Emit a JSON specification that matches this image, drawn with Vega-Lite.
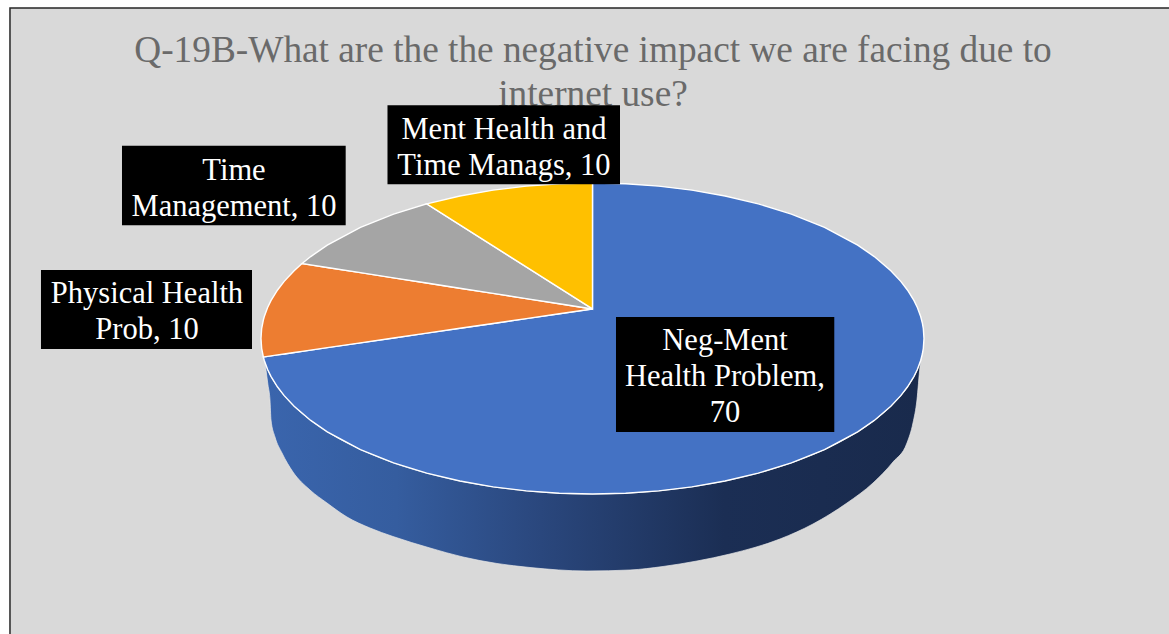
{
  "$schema": "https://vega.github.io/schema/vega-lite/v6.json",
  "width": 1169,
  "height": 634,
  "padding": 0,
  "autosize": "none",
  "background": "#ffffff",
  "view": {"stroke": null},
  "datasets": {
    "frame": [{"x": -175.72, "x2": 176, "y": 212.54, "y2": -192}],
    "wall": [
      {"x": -98.79, "y": -15.5, "y2": -15.5},
      {"x": -97.89, "y": -20.5, "y2": -29.9},
      {"x": -97.29, "y": -23.1, "y2": -39.55},
      {"x": -96.98, "y": -24.4, "y2": -52.41},
      {"x": -95.78, "y": -28.7, "y2": -63.34},
      {"x": -93.67, "y": -35.0, "y2": -73.63},
      {"x": -90.35, "y": -42.9, "y2": -85.85},
      {"x": -85.22, "y": -52.3, "y2": -97.43},
      {"x": -80.09, "y": -59.9, "y2": -105.79},
      {"x": -74.06, "y": -67.2, "y2": -114.79},
      {"x": -67.13, "y": -74.1, "y2": -121.86},
      {"x": -60.18, "y": -79.9, "y2": -127.33},
      {"x": -49.02, "y": -87.16, "y2": -134.73},
      {"x": -39.06, "y": -92.05, "y2": -140.51},
      {"x": -28.81, "y": -95.76, "y2": -144.69},
      {"x": -18.85, "y": -98.21, "y2": -147.27},
      {"x": -1.66, "y": -100, "y2": -149.52},
      {"x": 11.31, "y": -99.36, "y2": -148.87},
      {"x": 21.27, "y": -97.71, "y2": -146.62},
      {"x": 31.52, "y": -94.9, "y2": -143.09},
      {"x": 41.48, "y": -90.99, "y2": -138.59},
      {"x": 56.56, "y": -82.47, "y2": -128.94},
      {"x": 66.52, "y": -74.7, "y2": -119.29},
      {"x": 76.77, "y": -64.1, "y2": -105.79},
      {"x": 84.62, "y": -53.3, "y2": -92.93},
      {"x": 90.65, "y": -42.2, "y2": -79.42},
      {"x": 94.87, "y": -31.6, "y2": -67.2},
      {"x": 96.68, "y": -25.6, "y2": -54.34},
      {"x": 97.88, "y": -20.5, "y2": -39.55},
      {"x": 98.79, "y": -15.5, "y2": -18.33},
      {"x": 99.09, "y": -13.5, "y2": -13.5}
    ],
    "slices": [
      {"slice": "Neg-Ment Health Problem", "x": -99.29, "y": -11.9, "y2": -11.9},
      {"slice": "Neg-Ment Health Problem", "x": -99, "y": -11.81, "y2": -14.11},
      {"slice": "Neg-Ment Health Problem", "x": -98, "y": -11.5, "y2": -19.9},
      {"slice": "Neg-Ment Health Problem", "x": -97, "y": -11.19, "y2": -24.31},
      {"slice": "Neg-Ment Health Problem", "x": -95, "y": -10.56, "y2": -31.22},
      {"slice": "Neg-Ment Health Problem", "x": -93, "y": -9.94, "y2": -36.76},
      {"slice": "Neg-Ment Health Problem", "x": -90, "y": -9.01, "y2": -43.59},
      {"slice": "Neg-Ment Health Problem", "x": -85, "y": -7.45, "y2": -52.68},
      {"slice": "Neg-Ment Health Problem", "x": -80, "y": -5.9, "y2": -60},
      {"slice": "Neg-Ment Health Problem", "x": -70, "y": -2.78, "y2": -71.41},
      {"slice": "Neg-Ment Health Problem", "x": -60, "y": 0.33, "y2": -80},
      {"slice": "Neg-Ment Health Problem", "x": -50, "y": 3.44, "y2": -86.6},
      {"slice": "Neg-Ment Health Problem", "x": -40, "y": 6.55, "y2": -91.65},
      {"slice": "Neg-Ment Health Problem", "x": -30, "y": 9.66, "y2": -95.39},
      {"slice": "Neg-Ment Health Problem", "x": -20, "y": 12.78, "y2": -97.98},
      {"slice": "Neg-Ment Health Problem", "x": -10, "y": 15.89, "y2": -99.5},
      {"slice": "Neg-Ment Health Problem", "x": 0, "y": 19, "y2": -100},
      {"slice": "Neg-Ment Health Problem", "x": 0.01, "y": 100, "y2": -100},
      {"slice": "Neg-Ment Health Problem", "x": 10, "y": 99.5, "y2": -99.5},
      {"slice": "Neg-Ment Health Problem", "x": 20, "y": 97.98, "y2": -97.98},
      {"slice": "Neg-Ment Health Problem", "x": 30, "y": 95.39, "y2": -95.39},
      {"slice": "Neg-Ment Health Problem", "x": 40, "y": 91.65, "y2": -91.65},
      {"slice": "Neg-Ment Health Problem", "x": 50, "y": 86.6, "y2": -86.6},
      {"slice": "Neg-Ment Health Problem", "x": 60, "y": 80, "y2": -80},
      {"slice": "Neg-Ment Health Problem", "x": 70, "y": 71.41, "y2": -71.41},
      {"slice": "Neg-Ment Health Problem", "x": 80, "y": 60, "y2": -60},
      {"slice": "Neg-Ment Health Problem", "x": 85, "y": 52.68, "y2": -52.68},
      {"slice": "Neg-Ment Health Problem", "x": 90, "y": 43.59, "y2": -43.59},
      {"slice": "Neg-Ment Health Problem", "x": 93, "y": 36.76, "y2": -36.76},
      {"slice": "Neg-Ment Health Problem", "x": 95, "y": 31.22, "y2": -31.22},
      {"slice": "Neg-Ment Health Problem", "x": 97, "y": 24.31, "y2": -24.31},
      {"slice": "Neg-Ment Health Problem", "x": 98, "y": 19.9, "y2": -19.9},
      {"slice": "Neg-Ment Health Problem", "x": 99, "y": 14.11, "y2": -14.11},
      {"slice": "Neg-Ment Health Problem", "x": 99.5, "y": 9.99, "y2": -9.99},
      {"slice": "Neg-Ment Health Problem", "x": 99.8, "y": 6.32, "y2": -6.32},
      {"slice": "Neg-Ment Health Problem", "x": 100, "y": 0, "y2": 0},
      {"slice": "Physical Health Prob", "x": -100, "y": 0, "y2": 0},
      {"slice": "Physical Health Prob", "x": -99.8, "y": 6.32, "y2": -6.32},
      {"slice": "Physical Health Prob", "x": -99.29, "y": 11.9, "y2": -11.9},
      {"slice": "Physical Health Prob", "x": -99, "y": 14.11, "y2": -11.81},
      {"slice": "Physical Health Prob", "x": -98, "y": 19.9, "y2": -11.5},
      {"slice": "Physical Health Prob", "x": -97, "y": 24.31, "y2": -11.19},
      {"slice": "Physical Health Prob", "x": -95, "y": 31.22, "y2": -10.56},
      {"slice": "Physical Health Prob", "x": -93, "y": 36.76, "y2": -9.94},
      {"slice": "Physical Health Prob", "x": -90, "y": 43.59, "y2": -9.01},
      {"slice": "Physical Health Prob", "x": -87.6, "y": 48.2, "y2": -8.26},
      {"slice": "Physical Health Prob", "x": -80, "y": 45.67, "y2": -5.9},
      {"slice": "Physical Health Prob", "x": -70, "y": 42.33, "y2": -2.78},
      {"slice": "Physical Health Prob", "x": -60, "y": 39, "y2": 0.33},
      {"slice": "Physical Health Prob", "x": -50, "y": 35.67, "y2": 3.44},
      {"slice": "Physical Health Prob", "x": -40, "y": 32.33, "y2": 6.55},
      {"slice": "Physical Health Prob", "x": -30, "y": 29, "y2": 9.66},
      {"slice": "Physical Health Prob", "x": -20, "y": 25.67, "y2": 12.78},
      {"slice": "Physical Health Prob", "x": -10, "y": 22.33, "y2": 15.89},
      {"slice": "Physical Health Prob", "x": 0, "y": 19, "y2": 19},
      {"slice": "Time Management", "x": -87.6, "y": 48.2, "y2": 48.2},
      {"slice": "Time Management", "x": -85, "y": 52.68, "y2": 47.33},
      {"slice": "Time Management", "x": -80, "y": 60, "y2": 45.67},
      {"slice": "Time Management", "x": -70, "y": 71.41, "y2": 42.33},
      {"slice": "Time Management", "x": -60, "y": 80, "y2": 39},
      {"slice": "Time Management", "x": -50, "y": 86.6, "y2": 35.67},
      {"slice": "Time Management", "x": -40, "y": 73.08, "y2": 32.33},
      {"slice": "Time Management", "x": -30, "y": 59.56, "y2": 29},
      {"slice": "Time Management", "x": -20, "y": 46.04, "y2": 25.67},
      {"slice": "Time Management", "x": -10, "y": 32.52, "y2": 22.33},
      {"slice": "Time Management", "x": 0, "y": 19, "y2": 19},
      {"slice": "Ment Health and Time Manags", "x": -50, "y": 86.6, "y2": 86.6},
      {"slice": "Ment Health and Time Manags", "x": -40, "y": 91.65, "y2": 73.08},
      {"slice": "Ment Health and Time Manags", "x": -30, "y": 95.39, "y2": 59.56},
      {"slice": "Ment Health and Time Manags", "x": -20, "y": 97.98, "y2": 46.04},
      {"slice": "Ment Health and Time Manags", "x": -10, "y": 99.5, "y2": 32.52},
      {"slice": "Ment Health and Time Manags", "x": 0, "y": 100, "y2": 19}
    ],
    "labels": [
      {"label": "Neg-Ment\nHealth Problem,\n70", "value": 70, "x": 7.09, "x2": 72.94, "y": 13.83, "y2": -60.13, "tx": 39.97, "ty": -1.9},
      {"label": "Physical Health\nProb, 10", "value": 10, "x": -166.37, "x2": -102.71, "y": 44.05, "y2": -6.75, "tx": -134.39, "ty": 28.3},
      {"label": "Time\nManagement, 10", "value": 10, "x": -141.93, "x2": -74.45, "y": 123.99, "y2": 72.8, "tx": -108.14, "ty": 108.0},
      {"label": "Ment Health and\nTime Manags, 10", "value": 10, "x": -61.84, "x2": 8.3, "y": 149.97, "y2": 99.16, "tx": -26.7, "ty": 134.2}
    ],
    "heading": [
      {"text": "Q-19B-What are the the negative impact we are facing due to\ninternet use?", "x": 0.15, "y": 184.6}
    ]
  },
  "layer": [
    {
      "data": {"name": "frame"},
      "mark": {"type": "rect", "fill": "#d9d9d9", "stroke": "#262626", "strokeWidth": 1.5},
      "encoding": {
        "x": {"field": "x", "type": "quantitative", "scale": {"domain": [-178.73, 173.91], "nice": false, "zero": false}, "axis": null},
        "x2": {"field": "x2"},
        "y": {"field": "y", "type": "quantitative", "scale": {"domain": [-190.03, 217.68], "nice": false, "zero": false}, "axis": null},
        "y2": {"field": "y2"}
      }
    },
    {
      "data": {"name": "heading"},
      "mark": {"type": "text", "font": "Liberation Serif", "fontSize": 37.3, "lineHeight": 44, "lineBreak": "\n", "align": "center", "baseline": "middle", "color": "#6a6a6a"},
      "encoding": {
        "x": {"field": "x", "type": "quantitative"},
        "y": {"field": "y", "type": "quantitative"},
        "text": {"field": "text"}
      }
    },
    {
      "data": {"name": "wall"},
      "mark": {
        "type": "area",
        "orient": "vertical",
        "interpolate": "monotone",
        "stroke": "#e8e8e8",
        "strokeWidth": 0.7,
        "color": {
          "x1": 0, "y1": 0, "x2": 1, "y2": 0,
          "gradient": "linear",
          "stops": [
            {"offset": 0, "color": "#3A65AD"},
            {"offset": 0.2, "color": "#355D9F"},
            {"offset": 0.42, "color": "#2A477D"},
            {"offset": 0.7, "color": "#1B2E54"},
            {"offset": 1, "color": "#192A4C"}
          ]
        }
      },
      "encoding": {
        "x": {"field": "x", "type": "quantitative"},
        "y": {"field": "y", "type": "quantitative"},
        "y2": {"field": "y2"}
      }
    },
    {
      "data": {"name": "slices"},
      "mark": {"type": "area", "orient": "vertical", "stroke": "#ffffff", "strokeWidth": 1.4},
      "encoding": {
        "x": {"field": "x", "type": "quantitative"},
        "y": {"field": "y", "type": "quantitative"},
        "y2": {"field": "y2"},
        "color": {
          "field": "slice",
          "type": "nominal",
          "scale": {
            "domain": ["Neg-Ment Health Problem", "Physical Health Prob", "Time Management", "Ment Health and Time Manags"],
            "range": ["#4472C4", "#ED7D31", "#A5A5A5", "#FFC000"]
          },
          "legend": null
        }
      }
    },
    {
      "data": {"name": "labels"},
      "mark": {"type": "rect", "fill": "#000000"},
      "encoding": {
        "x": {"field": "x", "type": "quantitative"},
        "x2": {"field": "x2"},
        "y": {"field": "y", "type": "quantitative"},
        "y2": {"field": "y2"}
      }
    },
    {
      "data": {"name": "labels"},
      "mark": {"type": "text", "font": "Liberation Serif", "fontSize": 30.5, "lineHeight": 36, "lineBreak": "\n", "align": "center", "baseline": "middle", "color": "#ffffff"},
      "encoding": {
        "x": {"field": "tx", "type": "quantitative"},
        "y": {"field": "ty", "type": "quantitative"},
        "text": {"field": "label"}
      }
    }
  ]
}
